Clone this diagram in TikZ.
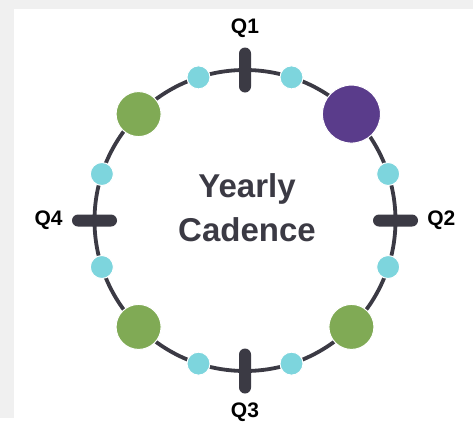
\documentclass[tikz,border=0pt]{standalone}
\usepackage{fontspec}
\setmainfont{Liberation Sans}
\definecolor{ringdark}{HTML}{3B3A44}
\definecolor{dotcyan}{HTML}{7DD5DD}
\definecolor{leafgreen}{HTML}{80AA55}
\definecolor{deeppurple}{HTML}{5A3C8B}
\definecolor{panelgray}{HTML}{F0F0F0}

\tikzset{
  qbar/.style={fill=ringdark,rounded corners=6pt,inner sep=0pt},
  qlabel/.style={font=\bfseries\fontsize{21}{21}\selectfont,inner sep=0pt,text=black},
  smalldot/.style={circle,fill=dotcyan,draw=white,line width=1pt,minimum size=23pt,inner sep=0pt},
  bigdot/.style={circle,draw=white,line width=1pt,minimum size=45pt,inner sep=0pt}
}

\begin{document}
\begin{tikzpicture}[x=1pt,y=-1pt]
  % panel
  \fill[panelgray] (0,0) rectangle (473,418);
  \fill[white] (14,9) rectangle (473,418);

  \coordinate (c) at (245,220.5);
  \draw[ringdark,line width=3.8pt] (c) circle[radius=150.5pt];

  % quarter marks and labels
  \foreach \a/\n/\w/\h/\an in {90/1/12/45/south, 0/2/45/12/west, 270/3/12/45/north, 180/4/45/12/east}{
    \path (c) ++(\a:150.5pt) node[qbar,minimum width=\w pt,minimum height=\h pt] (q\n) {};
    \node[qlabel,anchor=\an] (l\n) at ([shift={(\a:9pt)}]q\n.\a) {Q\n};
  }

  % monthly dots
  \foreach \a [count=\i] in {72,108,18,-18,252,288,162,198}
    \path (c) ++(\a:150.5pt) node[smalldot] (m\i) {};

  % milestones
  \path (c) ++(45:150.5pt) node[bigdot,fill=deeppurple,minimum size=58pt] (p1) {};
  \foreach \a [count=\i] in {135,225,315}
    \path (c) ++(\a:150.5pt) node[bigdot,fill=leafgreen] (g\i) {};

  \node[font=\bfseries\fontsize{33}{44}\selectfont,text=ringdark,align=center,inner sep=0pt]
    (title) at (247,208) {Yearly\\Cadence};
\end{tikzpicture}
\end{document}
